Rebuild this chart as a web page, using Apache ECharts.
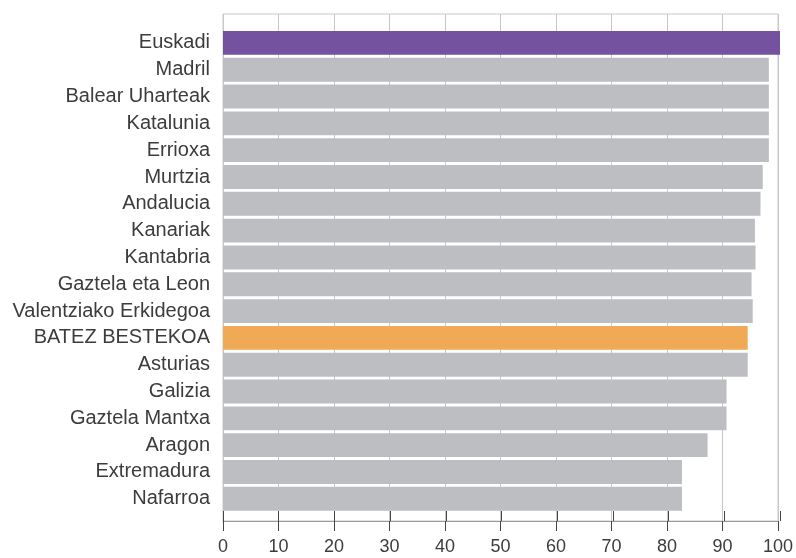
<!DOCTYPE html>
<html>
<head>
<meta charset="utf-8">
<script src="https://cdn.jsdelivr.net/npm/echarts@6/dist/echarts.min.js"></script>
<style>
html, body { margin: 0; padding: 0; background: #fff; }
#chart { width: 796px; height: 558px; }
</style>
</head>
<body>
<div id="chart"></div>
<script>
// datuak, goitik behera
var regions = ['Euskadi', 'Madril', 'Balear Uharteak', 'Katalunia', 'Errioxa', 'Murtzia',
  'Andalucia', 'Kanariak', 'Kantabria', 'Gaztela eta Leon', 'Valentziako Erkidegoa',
  'BATEZ BESTEKOA', 'Asturias', 'Galizia', 'Gaztela Mantxa', 'Aragon', 'Extremadura', 'Nafarroa'];
var values = [100, 98.0, 98.0, 98.0, 98.0, 96.9, 96.5, 95.5, 95.6, 94.9, 95.1,
  94.2, 94.2, 90.4, 90.4, 87.0, 82.4, 82.4];
var xTicks = [0, 10, 20, 30, 40, 50, 60, 70, 80, 90, 100];

var barColor = '#bdbec1';
var special = { 'Euskadi': '#7452a0', 'BATEZ BESTEKOA': '#f0aa55' };

var barData = [];
for (var i = 0; i < regions.length; i++) {
  barData.push({
    value: values[i],
    itemStyle: { color: special[regions[i]] || barColor }
  });
}

var chart = echarts.init(document.getElementById('chart'));
var font = 'Liberation Sans, Arial, sans-serif';

chart.setOption({
  animation: false,
  grid: [
    // marko eta ardatza
    { left: 223, right: 16, top: 14, bottom: 37, show: true, borderColor: '#c8c8c8', borderWidth: 1 },
    // barrak
    { left: 223, right: 16, top: 29.5, bottom: 45.8 },
    // barneko tick-ak
    { left: 223, right: 16, top: 14, bottom: 37 }
  ],
  xAxis: [
    {
      gridIndex: 0, type: 'value', min: xTicks[0], max: xTicks[xTicks.length - 1], interval: 10,
      axisLine: { show: true, lineStyle: { color: '#9a9a9a', width: 1 } },
      axisTick: { show: true, inside: false, length: 10, lineStyle: { color: '#444' } },
      axisLabel: { fontFamily: font, fontSize: 18, color: '#3c3c3c', margin: 17 },
      splitLine: { show: true, lineStyle: { color: '#c8c8c8', width: 1 } }
    },
    {
      gridIndex: 1, type: 'value', min: 0, max: 100, show: false
    },
    {
      gridIndex: 2, type: 'value', min: 0, max: 100, interval: 10,
      axisLine: { show: false },
      axisTick: { show: true, inside: true, length: 10, lineStyle: { color: '#444' } },
      axisLabel: { show: false },
      splitLine: { show: false }
    }
  ],
  yAxis: [
    { gridIndex: 0, type: 'value', show: false },
    {
      gridIndex: 1, type: 'category', data: regions, inverse: true,
      axisLine: { show: false }, axisTick: { show: false },
      axisLabel: { fontFamily: font, fontSize: 20, color: '#3c3c3c', margin: 13 }
    },
    { gridIndex: 2, type: 'value', show: false }
  ],
  series: [
    {
      type: 'bar', xAxisIndex: 1, yAxisIndex: 1,
      barCategoryGap: '11%',
      data: barData
    }
  ]
});
</script>
</body>
</html>
